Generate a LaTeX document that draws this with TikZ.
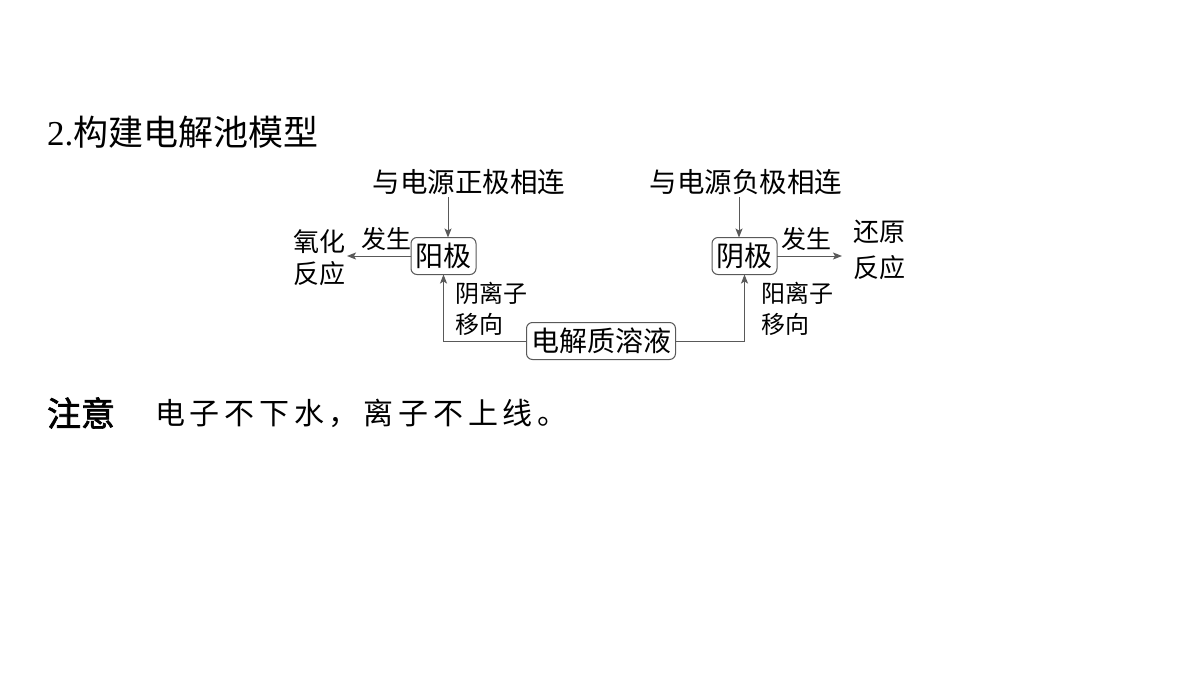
\documentclass[tikz,border=0pt]{standalone}
\usepackage{fontspec}
\setmainfont{Liberation Serif}
\newfontfamily\cjk{Noto Sans CJK SC}
\newfontfamily\cjkb{Noto Sans CJK SC}[FakeBold=2]
\usetikzlibrary{arrows.meta,positioning}
\begin{document}
\begin{tikzpicture}[x=1pt,y=-1pt,
  every node/.style={inner sep=0pt,outer sep=0pt,text=black},
  lab/.style={font=\cjk\fontsize{26}{32}\selectfont,align=left},
  box/.style={draw=black!65,line width=1pt,rounded corners=6pt,inner xsep=4.5pt,inner ysep=0pt,minimum height=37pt,font=\cjk\fontsize{28}{30}\selectfont},
  conn/.style={draw=black!65,line width=1pt,-{Stealth[length=9pt,width=7pt,inset=2pt]}},
  line/.style={draw=black!65,line width=1pt}]
\useasboundingbox[fill=white] (0,0) rectangle (1200,675);
\node[anchor=west,font=\fontsize{35}{40}\selectfont] (title) at (47,132) {2.{\cjk 构建电解池模型}};
\node[lab,font=\cjk\fontsize{27.5}{32}\selectfont] (pos) at (469,182) {与电源正极相连};
\node[lab,font=\cjk\fontsize{27.5}{32}\selectfont] (neg) at (746,182) {与电源负极相连};
\node[box] (anode) at (443.5,256) {阳极};
\node[box] (cathode) at (744.5,256) {阴极};
\node[box] (elec) at (601,341) {电解质溶液};
\node[lab,anchor=west] (ox) at (293,258) {氧化\\反应};
\node[lab,anchor=west,font=\cjk\fontsize{26}{36}\selectfont] (red) at (853,250) {还原\\反应};
\node[lab,font=\cjk\fontsize{25}{32}\selectfont] (fs1) at (386,239) {发生};
\node[lab,font=\cjk\fontsize{25}{32}\selectfont] (fs2) at (806,239) {发生};
\node[lab,anchor=west,font=\cjk\fontsize{24}{31}\selectfont] (an) at (455,309) {阴离子\\移向};
\node[lab,anchor=west,font=\cjk\fontsize{24}{31}\selectfont] (cat) at (761,309) {阳离子\\移向};
\coordinate (ox-end) at (347,256);
\coordinate (red-end) at (842,256);
\draw[conn] (448,197) coordinate (p1) -- (p1 |- anode.north);
\draw[conn] (739,197) coordinate (p2) -- (p2 |- cathode.north);
\draw[conn] (anode.west) -- (ox-end);
\draw[conn] (cathode.east) -- (red-end);
\draw[conn] (elec.west) -| (anode.south);
\draw[conn] (elec.east) -| (cathode.south);
\node[anchor=west,font=\cjkb\fontsize{34}{40}\selectfont] (note) at (47,413) {注意};
\node[anchor=west,font=\cjk\fontsize{30}{36}\selectfont] (notet) at (155,413) {\addfontfeature{LetterSpace=16}电子不下水，离子不上线。};
\end{tikzpicture}
\end{document}
